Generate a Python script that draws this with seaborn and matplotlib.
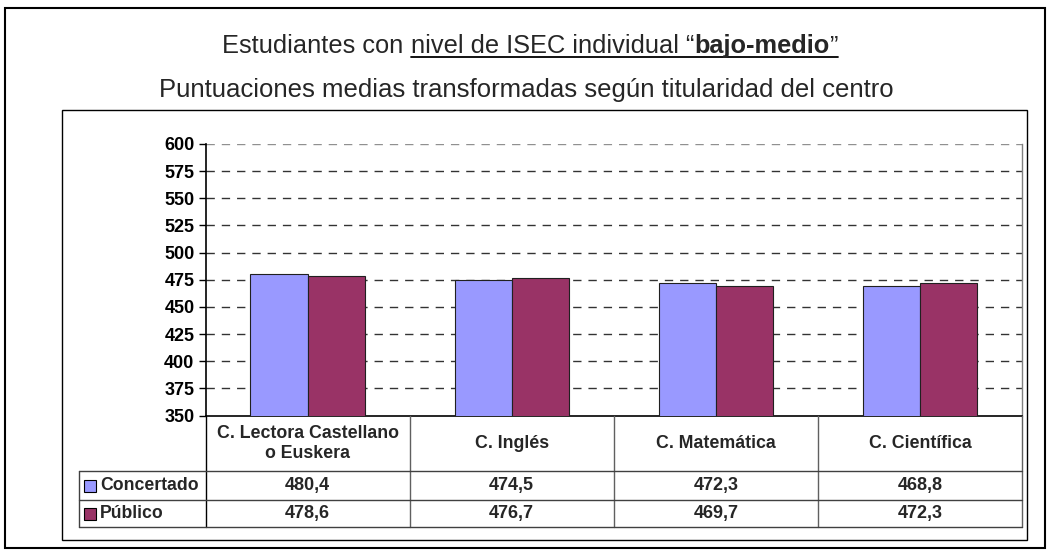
import pandas as pd
import seaborn as sns
import matplotlib.pyplot as plt
from matplotlib import transforms
from matplotlib.patches import Rectangle
from matplotlib.lines import Line2D

# datos del gráfico
categorias = ['C. Lectora Castellano\no Euskera', 'C. Inglés', 'C. Matemática', 'C. Científica']
series = ['Concertado', 'Público']
concertado = [480.4, 474.5, 472.3, 468.8]
publico = [478.6, 476.7, 469.7, 472.3]
colores = ['#9999FF', '#993366']
yticks = [350, 375, 400, 425, 450, 475, 500, 525, 550, 575, 600]

df = pd.DataFrame({'categoria': categorias * 2,
                   'serie': [series[0]] * 4 + [series[1]] * 4,
                   'valor': concertado + publico})

sns.set_theme(style='white')
plt.rcParams['font.family'] = ['Liberation Sans', 'DejaVu Sans']

W, H = 1051, 556
fy = lambda py: 1 - py / H  # pixel -> fracción de figura

fig = plt.figure(figsize=(W / 100, H / 100), dpi=100)
ax = fig.add_axes([205.5 / W, fy(415.5), (1022 - 205.5) / W, (415.5 - 144) / H])

sns.barplot(data=df, x='categoria', y='valor', hue='serie', palette=colores, saturation=1,
            width=0.56, edgecolor='#202020', linewidth=0.8, ax=ax, legend=False, zorder=3)
ax.set_ylim(350, 600)
ax.set_xlim(-0.5, 3.5)
ax.set_yticks(yticks)
ax.set_yticklabels([str(t) for t in yticks], fontsize=13, fontweight='bold', color='black')
ax.set_xticks([])
ax.set_xlabel('')
ax.set_ylabel('')
ax.tick_params(axis='y', left=True, direction='out', length=5, width=1, color='black', pad=3)

# rejilla discontinua
for t in yticks[1:-1]:
    ax.axhline(t, color='#333333', lw=1, ls=(0, (6, 5)), zorder=0)
ax.axhline(600, color='#909090', lw=1, ls=(0, (6, 5)), zorder=0)

ax.spines['top'].set_visible(False)
ax.spines['right'].set_color('#808080')
ax.spines['right'].set_linewidth(1)
ax.spines['left'].set_color('black')
ax.spines['bottom'].set_color('black')
ax.spines['left'].set_linewidth(1.2)
ax.spines['bottom'].set_linewidth(1.2)

# tabla de datos bajo el gráfico
tr = transforms.blended_transform_factory(ax.transData, fig.transFigure)
unit = (1022 - 205.5) / 4
xleg = -0.5 - (205.5 - 79) / unit
y_head, y_r1, y_r2 = 471, 500, 527
lc = '#404040'

def hline(x0, x1, py):
    fig.add_artist(Line2D([x0, x1], [fy(py), fy(py)], transform=tr, color=lc, lw=1, clip_on=False))

def vline(x, py0, py1, c=lc):
    fig.add_artist(Line2D([x, x], [fy(py0), fy(py1)], transform=tr, color=c, lw=1, clip_on=False))

for x in [-0.5, 0.5, 1.5, 2.5, 3.5]:
    vline(x, 415.5, y_r2, 'black' if x == -0.5 else '#606060')
vline(xleg, y_head, y_r2)
for py in [y_head, y_r1, y_r2]:
    hline(xleg, 3.5, py)

for i, c in enumerate(categorias):
    fig.text(i, fy((415.5 + y_head) / 2), c, transform=tr, ha='center', va='center',
             fontsize=12.8, fontweight='bold', linespacing=1.25)

filas = [concertado, publico]
for j, (nombre, vals) in enumerate(zip(series, filas)):
    yc = fy(((y_head, y_r1)[j] + (y_r1, y_r2)[j]) / 2)
    fig.add_artist(Rectangle((84 / W, yc - 6 / H), 12 / W, 12 / H, transform=fig.transFigure,
                             facecolor=colores[j], edgecolor='black', lw=0.8))
    fig.text(100 / W, yc, nombre, ha='left', va='center', fontsize=12.7, fontweight='bold')
    for i, v in enumerate(vals):
        fig.text(i, yc, f'{v:.1f}'.replace('.', ','), transform=tr, ha='center', va='center',
                 fontsize=13, fontweight='bold')

# marcos
fig.add_artist(Rectangle((5 / W, fy(548)), 1040 / W, 540 / H, transform=fig.transFigure,
                         fill=False, edgecolor='black', lw=1.5))
fig.add_artist(Rectangle((62 / W, fy(540)), 965 / W, 430 / H, transform=fig.transFigure,
                         fill=False, edgecolor='black', lw=1))

# títulos
piezas = [('Estudiantes con ', 'normal', False), ('nivel de ISEC individual “', 'normal', True),
          ('bajo-medio', 'bold', True), ('”', 'normal', True)]
r = fig.canvas.get_renderer()
textos = []
for txt, w, u in piezas:
    t = fig.text(0, fy(53), txt, ha='left', va='baseline', fontsize=18.3, fontweight=w)
    textos.append((t, u))
anchos = [t.get_window_extent(r).width for t, _ in textos]
x = 530 - sum(anchos) / 2
ul = []
for (t, u), a in zip(textos, anchos):
    t.set_x(x / W)
    if u:
        ul.append((x, x + a))
    x += a
fig.add_artist(Line2D([ul[0][0] / W, ul[-1][1] / W], [fy(56.5), fy(56.5)], transform=fig.transFigure,
                      color='black', lw=1.3))
fig.text(526 / W, fy(96.5), 'Puntuaciones medias transformadas según titularidad del centro',
         ha='center', va='baseline', fontsize=18.5)

fig.savefig('out.png', dpi=100)
